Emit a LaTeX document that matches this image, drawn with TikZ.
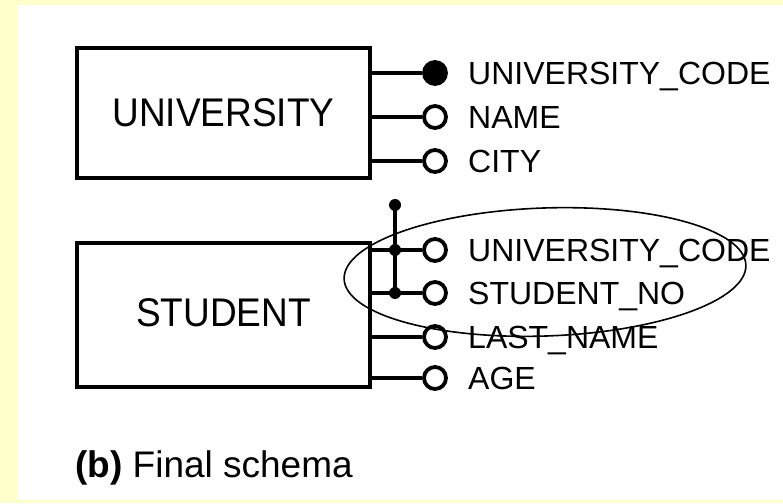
\documentclass[tikz,border=0pt]{standalone}
\usepackage{fontspec}
\setmainfont{Liberation Sans}
\definecolor{bgyellow}{RGB}{255,255,204}
\tikzset{
  entity/.style={draw, line width=3.6pt, rectangle, inner sep=0pt, minimum width=293pt},
  ename/.style={inner sep=0pt, font=\fontsize{40}{46}\selectfont, xscale=0.925},
  attr/.style={circle, draw, line width=3.8pt, minimum size=22pt, inner sep=0pt, fill=white},
  keyattr/.style={attr, fill=black},
  alink/.style={line width=3.4pt},
  albl/.style={anchor=base west, inner sep=0pt, font=\fontsize{32}{38}\selectfont},
  kdot/.style={circle, fill=black, minimum size=12pt, inner sep=0pt},
}
\begin{document}
\begin{tikzpicture}[x=1pt,y=1pt]
\useasboundingbox (0,0) rectangle (783,503);
\fill[bgyellow] (0,0) rectangle (783,503);
\fill[white] (17,3) rectangle (783,498);

% entities
\node[entity, minimum height=130pt] (univ) at (223.5,390) {};
\node[ename] (univlbl) at (univ.center) {UNIVERSITY};
\node[entity, minimum height=144pt] (stud) at (223.5,188) {};
\node[ename] (studlbl) at (223.5,190) {STUDENT};

% university attributes
\node[keyattr] (u1) at (435,430) {};
\node[attr] (u2) at (435,386) {};
\node[attr] (u3) at (435,342) {};
\foreach \n in {u1,u2,u3} \draw[alink] (univ.east |- \n) -- (\n);
\node[albl] (u1t) at (468,418.5) {UNIVERSITY\_CODE};
\node[albl] (u2t) at (468,374.5) {NAME};
\node[albl] (u3t) at (468,330.5) {CITY};

% student attributes
\node[attr] (s1) at (435,253) {};
\node[attr] (s2) at (435,210) {};
\node[attr] (s3) at (435,166) {};
\node[attr] (s4) at (435,125) {};
\foreach \n in {s1,s2,s3,s4} \draw[alink] (stud.east |- \n) -- (\n);
\node[albl] (s1t) at (468,241.5) {UNIVERSITY\_CODE};
\node[albl] (s2t) at (468,198.5) {STUDENT\_NO};
\node[albl] (s3t) at (468,154.5) {LAST\_NAME};
\node[albl] (s4t) at (468,113.5) {AGE};

% composite key
\node[kdot] (k0) at (395,298) {};
\node[kdot] (k1) at (395,253) {};
\node[kdot] (k2) at (395,210) {};
\draw[alink] (k0.center) -- (k2.center);

% caption
\node[anchor=base west, inner sep=0pt, font=\fontsize{37}{44}\selectfont] (cap) at (75,26) {\textbf{(b)} Final schema};

% highlight ellipse
\draw[line width=1.6pt] (545,231) ellipse [x radius=201, y radius=64, rotate=2];
\end{tikzpicture}
\end{document}
